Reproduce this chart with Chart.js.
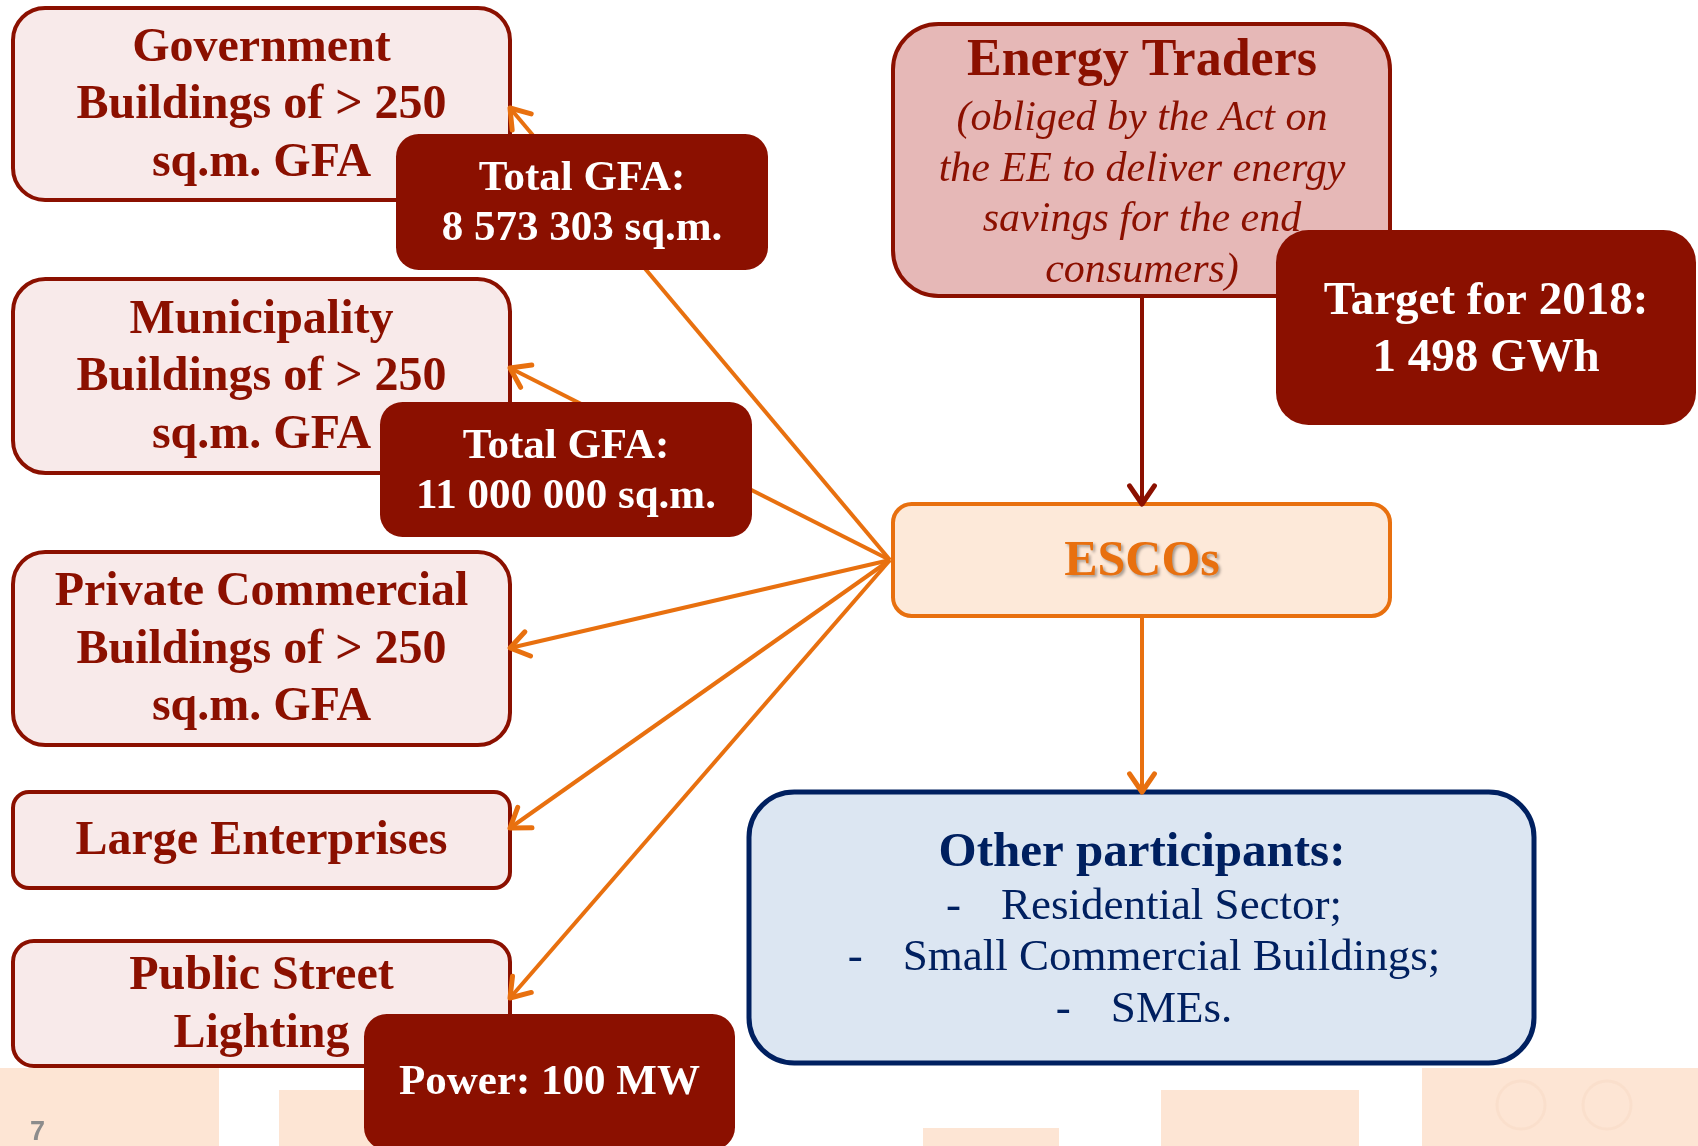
<!DOCTYPE html>
<html>
<head>
<meta charset="utf-8">
<script src="https://cdn.jsdelivr.net/npm/chart.js@4.4.1/dist/chart.umd.min.js"></script>
<style>
html,body{margin:0;padding:0;background:#ffffff;}
#wrap{width:1698px;height:1146px;position:relative;}
</style>
</head>
<body>
<div id="wrap"><canvas id="esco"></canvas></div>
<script>
/* =========================
   DATA
========================= */

const sectorNames = [
    ["Government", "Buildings of > 250", "sq.m. GFA"],
    ["Municipality", "Buildings of > 250", "sq.m. GFA"],
    ["Private Commercial", "Buildings of > 250", "sq.m. GFA"],
    ["Large Enterprises"],
    ["Public Street", "Lighting"]
];

const sectorNotes = [
    ["Total GFA:", "8 573 303 sq.m."],
    ["Total GFA:", "11 000 000 sq.m."],
    null,
    null,
    ["Power: 100 MW"]
];

const traderTitle = "Energy Traders";
const traderNote = [
    "(obliged by the Act on",
    "the EE to deliver energy",
    "savings for the end",
    "consumers)"
];
const traderTarget = ["Target for 2018:", "1 498 GWh"];

const escoLabel = "ESCOs";

const otherTitle = "Other participants:";
const otherItems = ["Residential Sector;", "Small Commercial Buildings;", "SMEs."];

const pageNumber = "7";


/* =========================
   LAYOUT (page units)
========================= */

const sectorBoxes = [
    [13, 8, 510, 200],
    [13, 279, 510, 473],
    [13, 552, 510, 745],
    [13, 792, 510, 888],
    [13, 941, 510, 1066]
];
const noteBoxes = [
    [396, 134, 768, 270],
    [380, 402, 752, 537],
    null,
    null,
    [364, 1014, 735, 1150]
];
const traderBox = [893, 24, 1390, 296];
const targetBox = [1276, 230, 1696, 425];
const escoBox   = [893, 504, 1390, 616];
const otherBox  = [749, 792, 1534, 1063];

const escoHub = {x: 890, y: 560};
const sectorTips = [
    {x: 510, y: 108},
    {x: 510, y: 368},
    {x: 510, y: 648},
    {x: 510, y: 828},
    {x: 510, y: 998}
];

const stripBlocks = [
    [0, 1068, 219, 1146],
    [279, 1090, 420, 1146],
    [923, 1128, 1059, 1146],
    [1161, 1090, 1359, 1146],
    [1422, 1068, 1698, 1146]
];

const DARK = "#8b1000";
const PINK = "#f8eaea";
const ORANGE = "#e8700f";
const SERIF = "'Liberation Serif', 'DejaVu Serif', serif";


/* =========================
   CONNECTORS AS DATASETS
========================= */

const connectors = sectorTips.map(tip => ({
    data: [escoHub, tip],
    color: ORANGE
}));
connectors.push({
    data: [{x: 1142, y: traderBox[3]}, {x: 1142, y: escoBox[1]}],
    color: DARK
});
connectors.push({
    data: [{x: 1142, y: escoBox[3]}, {x: 1142, y: otherBox[1]}],
    color: ORANGE
});


/* =========================
   DRAW HELPERS
========================= */

function roundRect(ctx, chart, box, fill, stroke, lw){
    const sx = chart.scales.x, sy = chart.scales.y;
    const x0 = sx.getPixelForValue(box[0]);
    const x1 = sx.getPixelForValue(box[2]);
    const y0 = sy.getPixelForValue(box[1]);
    const y1 = sy.getPixelForValue(box[3]);
    const w = x1 - x0, h = y1 - y0;
    const r = Math.min(w, h) * 0.167;
    ctx.beginPath();
    ctx.roundRect(x0, y0, w, h, r);
    if(fill){ ctx.fillStyle = fill; ctx.fill(); }
    if(stroke){ ctx.strokeStyle = stroke; ctx.lineWidth = lw; ctx.stroke(); }
}

function lines(ctx, chart, list, cx, cy, gap, font, color){
    const sx = chart.scales.x, sy = chart.scales.y;
    ctx.font = font;
    ctx.fillStyle = color;
    ctx.textAlign = "center";
    ctx.textBaseline = "middle";
    const start = cy - gap * (list.length - 1) / 2;
    list.forEach((t, i) => {
        ctx.fillText(t, sx.getPixelForValue(cx), sy.getPixelForValue(start + gap * i) + 2);
    });
}

const diagramPlugin = {
    id: "diagram",
    beforeDatasetsDraw(chart){
        const ctx = chart.ctx;
        const sx = chart.scales.x, sy = chart.scales.y;
        ctx.save();

        // bottom slide strip
        ctx.fillStyle = "#fde5d4";
        stripBlocks.forEach(b => {
            ctx.fillRect(sx.getPixelForValue(b[0]), sy.getPixelForValue(b[1]),
                sx.getPixelForValue(b[2]) - sx.getPixelForValue(b[0]),
                sy.getPixelForValue(b[3]) - sy.getPixelForValue(b[1]));
        });
        ctx.strokeStyle = "rgba(240,200,170,0.18)";
        ctx.lineWidth = 3;
        [[1521, 1105], [1607, 1105]].forEach(c => {
            ctx.beginPath();
            ctx.arc(sx.getPixelForValue(c[0]), sy.getPixelForValue(c[1]), 24, 0, Math.PI * 2);
            ctx.stroke();
        });
        ctx.font = "bold 27px 'Liberation Sans', sans-serif";
        ctx.fillStyle = "#8c8c8c";
        ctx.textAlign = "left";
        ctx.textBaseline = "middle";
        ctx.fillText(pageNumber, sx.getPixelForValue(30), sy.getPixelForValue(1133));

        // sector boxes
        sectorBoxes.forEach((b, i) => {
            roundRect(ctx, chart, b, PINK, DARK, 4);
            lines(ctx, chart, sectorNames[i], (b[0] + b[2]) / 2, (b[1] + b[3]) / 2,
                57.5, "bold 48px " + SERIF, DARK);
        });

        // energy traders
        roundRect(ctx, chart, traderBox, "#e6b8b7", DARK, 4);
        lines(ctx, chart, [traderTitle], 1142, 60, 0, "bold 52px " + SERIF, DARK);
        lines(ctx, chart, traderNote, 1142, 193, 50.7, "italic 42px " + SERIF, DARK);

        // escos
        roundRect(ctx, chart, escoBox, "#fde9d9", ORANGE, 4);
        ctx.save();
        ctx.shadowColor = "rgba(0,0,0,0.35)";
        ctx.shadowOffsetX = 2;
        ctx.shadowOffsetY = 2;
        ctx.shadowBlur = 3;
        lines(ctx, chart, [escoLabel], 1142, 560, 0, "bold 50px " + SERIF, ORANGE);
        ctx.restore();

        // other participants
        roundRect(ctx, chart, otherBox, "#dce6f2", "#002060", 5);
        lines(ctx, chart, [otherTitle], 1142, 851, 0, "bold 49px " + SERIF, "#002060");
        ctx.font = "45px " + SERIF;
        ctx.fillStyle = "#002060";
        ctx.textAlign = "left";
        otherItems.forEach((t, i) => {
            const dashGap = 55;
            const total = dashGap + ctx.measureText(t).width;
            const left = 1144 - total / 2;
            const y = sy.getPixelForValue(905 + 51.5 * i) + 2;
            ctx.fillText("-", sx.getPixelForValue(left), y);
            ctx.fillText(t, sx.getPixelForValue(left + dashGap), y);
        });

        ctx.restore();
    },
    afterDatasetsDraw(chart){
        const ctx = chart.ctx;
        ctx.save();

        // arrow heads on connector ends
        chart.data.datasets.forEach((ds, i) => {
            const pts = chart.getDatasetMeta(i).data;
            const a = pts[0], b = pts[1];
            const ang = Math.atan2(b.y - a.y, b.x - a.x);
            const len = 22, spread = 0.6;
            ctx.beginPath();
            ctx.moveTo(b.x - len * Math.cos(ang - spread), b.y - len * Math.sin(ang - spread));
            ctx.lineTo(b.x, b.y);
            ctx.lineTo(b.x - len * Math.cos(ang + spread), b.y - len * Math.sin(ang + spread));
            ctx.strokeStyle = ds.borderColor;
            ctx.lineWidth = 5;
            ctx.lineCap = "round";
            ctx.lineJoin = "round";
            ctx.stroke();
        });

        // dark note boxes on top of the connectors
        noteBoxes.forEach((b, i) => {
            if(!b) return;
            roundRect(ctx, chart, b, DARK, null, 0);
            const cy = i === 4 ? 1081 : (b[1] + b[3]) / 2;
            lines(ctx, chart, sectorNotes[i], (b[0] + b[2]) / 2, cy, 50,
                "bold 43px " + SERIF, "#ffffff");
        });

        roundRect(ctx, chart, targetBox, DARK, null, 0);
        lines(ctx, chart, traderTarget, 1486, 328.5, 57, "bold 47px " + SERIF, "#ffffff");

        ctx.restore();
    }
};


/* =========================
   CHART
========================= */

new Chart(document.getElementById("esco"), {

    type: "scatter",

    data: {
        datasets: connectors.map(c => ({
            data: c.data,
            showLine: true,
            borderColor: c.color,
            borderWidth: 4,
            pointRadius: 0,
            fill: false
        }))
    },

    options: {
        responsive: true,
        maintainAspectRatio: false,
        animation: false,
        layout: { padding: 0 },
        plugins: {
            legend: { display: false },
            tooltip: { enabled: false }
        },
        scales: {
            x: { type: "linear", min: 0, max: 1698, display: false },
            y: { type: "linear", min: 0, max: 1146, reverse: true, display: false }
        }
    },

    plugins: [diagramPlugin]

});
</script>
</body>
</html>
